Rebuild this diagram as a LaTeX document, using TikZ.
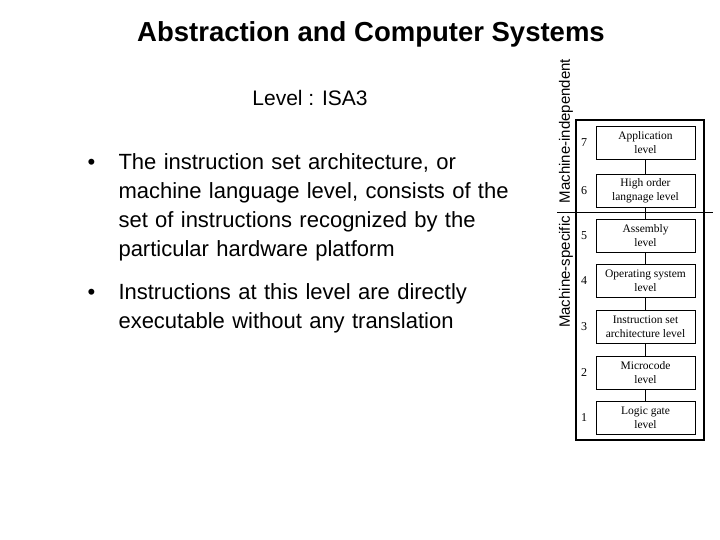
\documentclass[tikz,border=0pt]{standalone}
\usepackage{fontspec}
\setmainfont{Liberation Sans}
\newfontfamily\serif{Liberation Serif}
\begin{document}
\begin{tikzpicture}[x=1pt,y=-1pt,
 lvl/.style={draw,line width=0.8pt,minimum width=99pt,minimum height=33pt,inner sep=0pt,align=center,font=\serif\fontsize{11.5}{14}\selectfont},
 num/.style={font=\serif\fontsize{12}{13}\selectfont},
 body/.style={anchor=north west,align=left,text width=560pt,font=\fontsize{22}{29}\selectfont}]
\useasboundingbox (0,0) rectangle (720,540);
\node (title) at (371,34) {\fontsize{27.5}{30}\selectfont\bfseries Abstraction and Computer Systems};
\node (lev) at (310,98) {\fontsize{21}{23}\selectfont Level : ISA3};
\node[body] (b1) at (84,150) {\makebox[31pt][l]{\textbullet}\parbox[t]{520pt}{The instruction set architecture, or\\ machine language level, consists of the\\ set of instructions recognized by the\\ particular hardware platform}};
\node[body] (b2) at (84,280) {\makebox[31pt][l]{\textbullet}\parbox[t]{520pt}{Instructions at this level are directly\\ executable without any translation}};
\node[draw,line width=2.2pt,minimum width=128pt,minimum height=320pt,inner sep=0pt] (frame) at (640,280) {};
\foreach \n/\y/\t in {7/143/Application\\level,6/191/High order\\langnage level,5/236/Assembly\\level,4/281/Operating system\\level,3/327/Instruction set\\architecture level,2/373/Microcode\\level,1/418/Logic gate\\level}{
 \node[lvl] (L\n) at (645.5,\y) {\t};
 \node[num] (N\n) at (584,\y) {\n};
}
\foreach \a/\b in {7/6,6/5,5/4,4/3,3/2,2/1} \draw (L\a.south) -- (L\b.north);
\coordinate (d1) at (557,212);
\coordinate (d2) at (713,212);
\draw (d1) -- (d2);
\node[rotate=90,font=\fontsize{15}{16}\selectfont] (mi) at (566,131) {Machine-independent};
\node[rotate=90,font=\fontsize{15}{16}\selectfont] (ms) at (566,272) {Machine-specific};
\end{tikzpicture}
\end{document}
